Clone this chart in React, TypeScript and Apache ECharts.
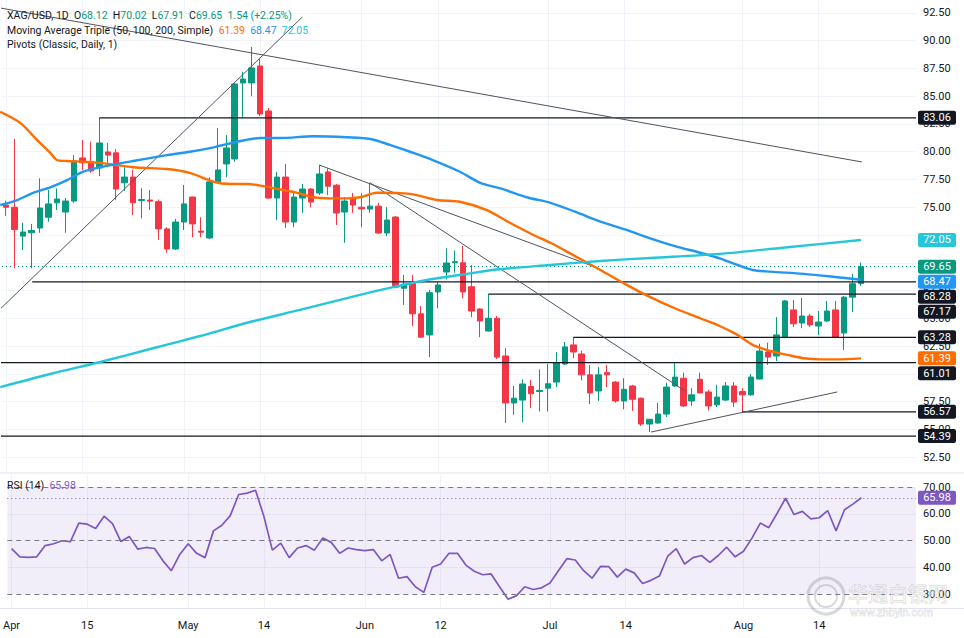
import React, { useEffect, useRef } from "react";
import * as echarts from "echarts";

// ---------- data ----------
const SLOTS = 108; // 102 daily bars + empty space on the right
const TICK_INDEX = [0, 9, 21, 30, 42, 51, 64, 73, 87, 96];
const TICK_TEXT = ["Apr", "15", "May", "14", "Jun", "12", "Jul", "14", "Aug", "14"];

const OPEN = [
  75.2, 75.0, 72.4, 72.7, 73.13, 74.1, 75.4, 74.57, 75.56, 79.44,
  79.08, 78.54, 79.98, 79.9, 77.2, 77.72, 75.6, 75.65, 75.5, 73.05,
  71.24, 73.67, 75.92, 72.85, 72.23, 77.28, 78.9, 79.35, 86.2, 86.2,
  87.72, 83.67, 75.83, 77.72, 73.67, 75.83, 76.64, 76.28, 78.18, 76.99,
  74.57, 75.83, 75.0, 74.84, 75.1, 72.68, 74.12, 67.7, 68.2, 65.4,
  63.5, 67.37, 69.17, 70.0, 70.0, 67.84, 65.83, 63.85, 65.0, 61.6,
  57.37, 57.63, 58.85, 58.4, 58.7, 59.25, 60.88, 62.6, 61.78, 59.9,
  58.45, 60.1, 59.25, 57.55, 58.9, 57.8, 55.47, 55.56, 56.37, 58.9,
  59.6, 57.55, 59.5, 58.36, 57.2, 57.63, 58.9, 58.4, 58.1, 59.53,
  61.96, 61.6, 63.3, 65.75, 64.57, 65.2, 64.3, 64.75, 65.75, 63.67,
  66.9, 68.12,
];
const HIGH = [
  75.6, 81.15, 73.6, 73.5, 77.6, 76.55, 76.7, 75.83, 79.7, 81.06,
  80.9, 83.04, 80.8, 80.25, 78.6, 78.36, 76.7, 76.55, 75.7, 73.2,
  73.94, 77.0, 75.95, 74.1, 77.7, 82.14, 81.5, 86.2, 87.2, 89.44,
  88.45, 83.94, 78.18, 78.9, 76.4, 77.1, 76.7, 78.8, 78.5, 77.1,
  75.92, 76.28, 76.28, 77.2, 75.4, 75.0, 74.2, 68.9, 68.9, 66.1,
  67.55, 68.27, 71.3, 71.1, 71.5, 69.8, 65.9, 67.2, 65.2, 62.3,
  58.9, 59.5, 59.45, 60.4, 60.9, 61.96, 62.86, 63.3, 62.1, 60.8,
  60.6, 60.8, 59.35, 59.6, 59.0, 57.85, 55.9, 57.37, 59.2, 60.97,
  60.1, 58.7, 60.1, 58.55, 59.0, 59.26, 59.26, 58.7, 59.97, 62.7,
  62.8, 65.1, 66.65, 66.65, 66.83, 65.4, 65.65, 66.56, 66.56, 67.0,
  69.0, 70.02,
];
const LOW = [
  74.2, 69.5, 71.15, 69.5, 72.7, 73.7, 74.75, 72.7, 75.4, 78.36,
  78.1, 77.8, 78.6, 75.65, 76.46, 74.3, 74.0, 74.75, 72.05, 70.9,
  71.15, 72.95, 72.3, 72.3, 72.14, 77.2, 77.7, 79.1, 83.05, 85.0,
  83.2, 75.75, 73.85, 73.13, 73.2, 74.5, 75.0, 76.1, 76.1, 73.4,
  71.8, 74.5, 73.2, 74.5, 72.6, 72.4, 67.7, 66.2, 64.3, 63.25,
  61.5, 65.9, 68.5, 69.1, 66.8, 65.1, 63.3, 63.8, 61.33, 55.56,
  56.3, 55.65, 56.9, 56.6, 56.6, 58.8, 60.8, 61.4, 59.4, 57.28,
  57.55, 58.8, 57.4, 56.8, 56.65, 55.3, 54.75, 55.5, 56.1, 58.8,
  57.0, 57.1, 58.25, 56.7, 57.0, 57.55, 57.0, 56.55, 58.0, 59.5,
  60.8, 61.15, 63.2, 64.2, 64.1, 64.2, 63.5, 64.66, 63.2, 62.14,
  65.56, 67.91,
];
const CLOSE = [
  75.0, 73.0, 72.77, 72.9, 74.93, 75.3, 75.74, 75.56, 79.17, 79.0,
  78.27, 80.79, 79.7, 76.64, 77.72, 75.4, 75.7, 75.55, 73.05, 71.24,
  73.67, 75.3, 73.5, 72.75, 77.28, 78.36, 80.34, 86.1, 86.55, 87.55,
  83.4, 75.83, 77.72, 73.67, 75.92, 76.64, 75.47, 78.0, 76.9, 74.48,
  75.56, 75.2, 74.85, 75.1, 72.68, 73.85, 67.8, 68.05, 65.4, 63.3,
  67.3, 68.0, 69.98, 70.1, 67.37, 65.65, 64.75, 65.0, 61.5, 57.37,
  57.8, 59.08, 58.2, 58.5, 59.1, 60.97, 62.42, 61.96, 59.9, 58.27,
  59.9, 59.9, 57.55, 58.6, 57.7, 55.47, 55.9, 56.37, 58.8, 59.7,
  57.1, 58.1, 58.27, 57.1, 57.9, 58.9, 57.45, 58.1, 59.7, 62.05,
  61.5, 63.5, 66.56, 64.5, 65.2, 64.4, 64.66, 65.65, 63.3, 66.9,
  68.11, 69.65,
];
const CHANGE = 1.54;
const CHANGE_PCT = 2.25;

const RSI = [
  47.0, 43.9, 43.7, 43.9, 48.1, 48.8, 49.9, 49.6, 56.5, 56.1,
  54.5, 59.1, 56.3, 49.6, 51.5, 46.8, 47.4, 47.0, 42.4, 38.7,
  44.8, 48.8, 45.2, 43.6, 53.6, 55.7, 59.3, 67.2, 67.7, 68.8,
  59.0, 46.4, 49.0, 43.6, 47.2, 48.1, 46.4, 50.9, 49.3, 45.2,
  47.2, 46.6, 46.2, 46.6, 42.4, 44.8, 35.9, 36.5, 32.7, 30.6,
  40.0, 41.2, 45.2, 45.2, 40.8, 38.5, 37.2, 37.5, 32.7, 28.1,
  29.3, 32.7, 31.7, 32.3, 34.1, 38.7, 43.2, 42.7, 38.7, 35.9,
  40.3, 40.2, 36.3, 39.3, 37.9, 33.9, 35.1, 36.7, 44.2, 47.0,
  41.2, 43.6, 44.4, 41.8, 44.4, 47.5, 43.9, 46.0, 50.9, 56.5,
  54.8, 60.2, 65.8, 59.7, 60.9, 58.1, 58.5, 61.2, 53.6, 61.5,
  63.6, 65.98,
];

// moving averages: [bar position, value]
const MA50: [number, number][] = [
  [-0.71, 83.6], [1.65, 82.6], [3.66, 81.05], [5.2, 79.9], [6.0, 79.25], [7.2, 79.17],
  [9.1, 79.1], [11.1, 79.0], [15.0, 78.6], [19.0, 78.45], [21.7, 78.1], [24.5, 77.3],
  [26.5, 77.1], [28.5, 77.1], [30.4, 76.9], [32.4, 76.6], [34.4, 76.3], [36.3, 75.9],
  [38.3, 75.8], [40.3, 75.8], [41.8, 75.9], [43.8, 76.3], [47.7, 76.2], [50.9, 75.65],
  [53.6, 75.5], [56.8, 74.75], [59.5, 73.6], [62.3, 72.5], [64.3, 71.8], [67.2, 70.6],
  [70.2, 69.35], [73.1, 68.1], [76.1, 66.9], [79.0, 65.9], [82.0, 65.0], [84.3, 64.3],
  [86.4, 63.5], [88.2, 62.6], [90.3, 62.05], [92.3, 61.7], [94.2, 61.4], [96.2, 61.3],
  [98.2, 61.3], [101, 61.39],
];
const MA100: [number, number][] = [
  [-0.71, 75.2], [1.3, 75.65], [3.2, 76.3], [5.2, 76.8], [7.2, 77.45], [9.1, 78.2],
  [11.1, 78.6], [15.0, 79.17], [19.0, 79.7], [21.7, 80.0], [24.5, 80.4], [27.3, 80.9],
  [30.0, 81.24], [32.4, 81.24], [36.3, 81.4], [40.3, 81.3], [43.0, 81.15], [45.4, 80.6],
  [47.7, 80.0], [50.4, 79.25], [53.6, 78.2], [56.0, 77.2], [58.4, 76.7], [61.5, 75.9],
  [64.3, 75.4], [67.2, 74.6], [70.2, 73.7], [73.1, 73.0], [76.1, 72.2], [79.0, 71.5],
  [82.0, 70.9], [84.3, 70.4], [86.4, 69.8], [88.2, 69.35], [90.3, 69.2], [94.2, 69.0],
  [98.2, 68.7], [101, 68.47],
];
const MA200: [number, number][] = [
  [-0.71, 58.8], [5.2, 59.98], [11.1, 61.06], [17.0, 62.23], [22.9, 63.4], [28.8, 64.66],
  [34.7, 65.75], [41.8, 67.1], [45.7, 67.8], [49.7, 68.45], [53.6, 68.9], [57.5, 69.35],
  [64.3, 69.8], [70.2, 70.16], [76.1, 70.43], [84.3, 70.8], [92.3, 71.4], [101, 72.05],
];
const MA_LAST = [61.39, 68.47, 72.05];

// drawn trend lines: [[x1, y1], [x2, y2]] in bar position / price
const TRENDLINES: [number, number][][] = [
  [[-0.71, 92.95], [101.1, 79.08]],
  [[-0.71, 65.83], [35.0, 92.14]],
  [[37.0, 78.8], [69.9, 69.53]],
  [[43.0, 77.2], [80.2, 58.45]],
  [[76.2, 54.75], [98.2, 58.36]],
];
// horizontal levels: start bar, price
const LEVEL_FROM = [11, 3.07, 57, 67, -0.71, 87, -0.71];
const LEVEL_VALUE = [83.06, 68.28, 67.17, 63.28, 61.01, 56.57, 54.39];

const PRICE_TICKS = [52.5, 55, 57.5, 60, 62.5, 65, 67.5, 70, 72.5, 75, 77.5, 80, 82.5, 85, 87.5, 90, 92.5];
const RSI_TICKS = [30, 40, 50, 60, 70];
const RSI_BANDS = [70, 50, 30];

// ---------- styling ----------
const FONT = "Roboto, 'Noto Sans', 'DejaVu Sans', sans-serif";
const TEXT = "#131722";
const UP = "#089981";
const DOWN = "#F23645";
const C50 = "#FF6D00";
const C100 = "#2196F3";
const C200 = "#26C6DA";
const RSI_C = "#7E57C2";
const GRIDC = "#f0f3fa";
const LEG = 10.5;

const CATS = Array.from({ length: SLOTS }, (_, i) => "d" + i);
const LABEL_OF: Record<string, string> = {};
TICK_INDEX.forEach((i, k) => (LABEL_OF["d" + i] = TICK_TEXT[k]));

function buildOption(): any {
  const candles = OPEN.map((o, i) => [o, CLOSE[i], LOW[i], HIGH[i]]);
  const maSeries = [
    [MA50, C50],
    [MA100, C100],
    [MA200, C200],
  ].map(([d, c]) => ({
    type: "line",
    xAxisIndex: 1,
    yAxisIndex: 0,
    data: d,
    smooth: 0.3,
    symbol: "none",
    silent: true,
    z: 4,
    lineStyle: { color: c, width: 2.4 },
  }));
  const trendSeries = TRENDLINES.map((seg) => ({
    type: "line",
    xAxisIndex: 1,
    yAxisIndex: 0,
    data: seg,
    symbol: "none",
    silent: true,
    z: 3,
    lineStyle: { color: "#50535e", width: 1 },
  }));
  const levelSeries = LEVEL_VALUE.map((v, k) => ({
    type: "line",
    xAxisIndex: 1,
    yAxisIndex: 0,
    data: [
      [LEVEL_FROM[k], v],
      [SLOTS - 0.5, v],
    ],
    symbol: "none",
    silent: true,
    z: 3,
    lineStyle: { color: "#131722", width: 1.2 },
  }));

  return {
    animation: false,
    backgroundColor: "#ffffff",
    grid: [
      { left: 2, right: 48, top: 0, height: 472 },
      { left: 2, right: 48, top: 474, height: 134 },
    ],
    xAxis: [
      {
        type: "category",
        gridIndex: 0,
        data: CATS,
        boundaryGap: true,
        axisLine: { show: false },
        axisTick: { show: false },
        axisLabel: { show: false },
        splitLine: { show: false },
      },
      { type: "value", gridIndex: 0, min: -0.5, max: SLOTS - 0.5, show: false },
      {
        type: "category",
        gridIndex: 1,
        data: CATS,
        boundaryGap: true,
        axisLine: { show: false },
        axisTick: { show: false },
        splitLine: { show: false },
        axisLabel: {
          interval: (i: number) => TICK_INDEX.includes(i),
          formatter: (v: string) => LABEL_OF[v] ?? "",
          color: TEXT,
          fontSize: 11,
          fontFamily: FONT,
          margin: 12,
        },
      },
      { type: "value", gridIndex: 1, min: -0.5, max: SLOTS - 0.5, show: false },
    ],
    yAxis: [
      {
        type: "value",
        gridIndex: 0,
        position: "right",
        min: 51.15,
        max: 93.67,
        axisLine: { show: false },
        axisTick: { show: false },
        splitLine: { show: false },
        axisLabel: {
          customValues: PRICE_TICKS,
          formatter: (v: number) => v.toFixed(2),
          color: TEXT,
          fontSize: 11,
          fontFamily: FONT,
          margin: 7,
        },
      },
      {
        type: "value",
        gridIndex: 1,
        position: "right",
        min: 24.77,
        max: 74.86,
        axisLine: { show: false },
        axisTick: { show: false },
        splitLine: { show: false },
        axisLabel: {
          customValues: RSI_TICKS,
          formatter: (v: number) => v.toFixed(2),
          color: TEXT,
          fontSize: 11,
          fontFamily: FONT,
          margin: 7,
        },
      },
    ],
    series: [
      // price pane grid
      {
        type: "line",
        xAxisIndex: 1,
        yAxisIndex: 0,
        data: [],
        silent: true,
        z: 0,
        markLine: {
          silent: true,
          z: 0,
          symbol: ["none", "none"],
          label: { show: false },
          lineStyle: { color: GRIDC, width: 1, type: "solid" },
          data: [
            ...PRICE_TICKS.map((v) => ({ yAxis: v })),
            ...TICK_INDEX.map((i) => ({ xAxis: i })),
          ],
        },
      },
      // rsi pane grid
      {
        type: "line",
        xAxisIndex: 3,
        yAxisIndex: 1,
        data: [],
        silent: true,
        z: 0,
        markLine: {
          silent: true,
          z: 0,
          symbol: ["none", "none"],
          label: { show: false },
          lineStyle: { color: GRIDC, width: 1, type: "solid" },
          data: [{ yAxis: 40 }, { yAxis: 60 }, ...TICK_INDEX.map((i) => ({ xAxis: i }))],
        },
      },
      {
        type: "candlestick",
        xAxisIndex: 0,
        yAxisIndex: 0,
        data: candles,
        barWidth: 6,
        silent: true,
        z: 2,
        itemStyle: {
          color: UP,
          color0: DOWN,
          borderColor: UP,
          borderColor0: DOWN,
          borderWidth: 1,
        },
        markLine: {
          silent: true,
          z: 1,
          symbol: ["none", "none"],
          label: { show: false },
          lineStyle: { color: UP, width: 1, type: [1, 3] },
          data: [{ yAxis: CLOSE[CLOSE.length - 1] }],
        },
      },
      ...levelSeries,
      ...trendSeries,
      ...maSeries,
      {
        type: "line",
        xAxisIndex: 2,
        yAxisIndex: 1,
        data: RSI,
        symbol: "none",
        silent: true,
        z: 4,
        lineStyle: { color: RSI_C, width: 1.7 },
        markArea: {
          silent: true,
          itemStyle: { color: "rgba(126,87,194,0.1)" },
          data: [[{ yAxis: 30 }, { yAxis: 70 }]],
        },
        markLine: {
          silent: true,
          symbol: ["none", "none"],
          label: { show: false },
          data: [
            ...RSI_BANDS.map((v) => ({
              yAxis: v,
              lineStyle: { color: "#787B86", width: 1, type: [5, 4] },
            })),
            {
              yAxis: RSI[RSI.length - 1],
              lineStyle: { color: RSI_C, width: 1, type: [1, 3] },
            },
          ],
        },
      },
    ],
  };
}

export default function App() {
  const ref = useRef<HTMLDivElement>(null);
  useEffect(() => {
    const chart = echarts.init(ref.current!, undefined, { renderer: "svg" });
    chart.setOption(buildOption());

    const last = OPEN.length - 1;
    const tagsDef = [
      { v: 83.06, bg: "#131722", fg: "#ffffff" },
      { v: MA_LAST[2], bg: C200, fg: "#ffffff" },
      { v: CLOSE[last], bg: UP, fg: "#ffffff" },
      { v: MA_LAST[1], bg: C100, fg: "#ffffff" },
      { v: 68.28, bg: "#131722", fg: "#ffffff" },
      { v: 67.17, bg: "#131722", fg: "#ffffff" },
      { v: 63.28, bg: "#131722", fg: "#ffffff" },
      { v: MA_LAST[0], bg: C50, fg: "#ffffff" },
      { v: 61.01, bg: "#131722", fg: "#ffffff" },
      { v: 56.57, bg: "#131722", fg: "#ffffff" },
      { v: 54.39, bg: "#131722", fg: "#ffffff" },
    ];
    const toY = (v: number) => chart.convertToPixel({ yAxisIndex: 0 } as any, v) as number;
    const tags = tagsDef.map((t) => ({ ...t, y: toY(t.v) })).sort((a, b) => a.y - b.y);
    for (let i = 1; i < tags.length; i++) {
      if (tags[i].y < tags[i - 1].y + 15) tags[i].y = tags[i - 1].y + 15;
    }
    // tick labels that sit fully under a price tag are hidden, as on the reference
    const visibleTicks = PRICE_TICKS.filter((v) => {
      const y = toY(v);
      return !tags.some((t) => Math.abs(t.y - y) < 6);
    });

    const rsiY = chart.convertToPixel({ yAxisIndex: 1 } as any, RSI[RSI.length - 1]) as number;
    const allTags = [...tags, { v: RSI[RSI.length - 1], bg: RSI_C, fg: "#ffffff", y: rsiY }];

    const tagEls = allTags.map((t) => ({
      type: "group",
      z: 100,
      children: [
        {
          type: "rect",
          shape: { x: 918, y: t.y - 7, width: 38, height: 14, r: 2 },
          style: { fill: t.bg },
          z: 100,
        },
        {
          type: "text",
          x: 937,
          y: t.y,
          z: 101,
          style: {
            text: t.v.toFixed(2),
            fill: t.fg,
            fontSize: 11,
            fontFamily: FONT,
            align: "center",
            verticalAlign: "middle",
          },
        },
      ],
    }));

    const rs = (c: string) => ({ fill: c, color: c, fontSize: LEG, fontFamily: FONT });
    const rich = { d: rs(TEXT), g: rs(UP), o: rs(C50), b: rs(C100), c: rs(C200), p: rs(RSI_C) };
    const f = (v: number) => v.toFixed(2);
    const line1 =
      `{d|XAG/USD, 1D  O}{g|${f(OPEN[last])}}{d|  H}{g|${f(HIGH[last])}}` +
      `{d|  L}{g|${f(LOW[last])}}{d|  C}{g|${f(CLOSE[last])}}` +
      `{g|  ${f(CHANGE)} (+${f(CHANGE_PCT)}%)}`;
    const line2 =
      `{d|Moving Average Triple (50, 100, 200, Simple)}{o|  ${f(MA_LAST[0])}}` +
      `{b|  ${f(MA_LAST[1])}}{c|  ${f(MA_LAST[2])}}`;
    const line3 = `{d|Pivots (Classic, Daily, 1)}`;
    const line4 = `{d|RSI (14)}{p|  ${f(RSI[RSI.length - 1])}}`;

    const textEl = (txt: string, x: number, y: number) => ({
      type: "text",
      x,
      y,
      z: 90,
      style: { text: txt, rich, fontSize: LEG, fontFamily: FONT, verticalAlign: "middle", fill: TEXT },
    });

    const WM_FILL = "rgba(255,255,255,0.55)";
    const WM_STROKE = "rgba(120,120,120,0.28)";

    chart.setOption({
      yAxis: [{ axisLabel: { customValues: visibleTicks } }, {}],
      graphic: [
        {
          type: "line",
          shape: { x1: 0, y1: 473, x2: 964, y2: 473 },
          style: { stroke: "#e0e3eb", lineWidth: 1 },
          z: 50,
        },
        {
          type: "line",
          shape: { x1: 0, y1: 608.5, x2: 964, y2: 608.5 },
          style: { stroke: "#e0e3eb", lineWidth: 1 },
          z: 50,
        },
        textEl(line1, 7, 15),
        textEl(line2, 7, 30),
        textEl(line3, 7, 44),
        textEl(line4, 7, 485),
        {
          type: "circle",
          shape: { cx: 826, cy: 596, r: 18 },
          style: { fill: "none", stroke: WM_STROKE, lineWidth: 3 },
          z: 60,
        },
        {
          type: "circle",
          shape: { cx: 826, cy: 596, r: 11 },
          style: { fill: "none", stroke: WM_STROKE, lineWidth: 2 },
          z: 60,
        },
        {
          type: "text",
          x: 848,
          y: 593,
          z: 60,
          style: {
            text: "华通白银网",
            fontSize: 20,
            fontFamily: "'Noto Sans CJK SC', sans-serif",
            fill: WM_FILL,
            stroke: WM_STROKE,
            lineWidth: 1,
            verticalAlign: "middle",
          },
        },
        {
          type: "text",
          x: 850,
          y: 612,
          z: 60,
          style: {
            text: "www.zhbyin.com",
            fontSize: 11,
            fontFamily: FONT,
            fill: WM_FILL,
            stroke: WM_STROKE,
            lineWidth: 0.8,
            verticalAlign: "middle",
          },
        },
        ...tagEls,
      ],
    });

    return () => chart.dispose();
  }, []);

  return (
    <div
      ref={ref}
      style={{ position: "absolute", left: 0, top: 0, width: 964, height: 638, background: "#ffffff" }}
    />
  );
}
